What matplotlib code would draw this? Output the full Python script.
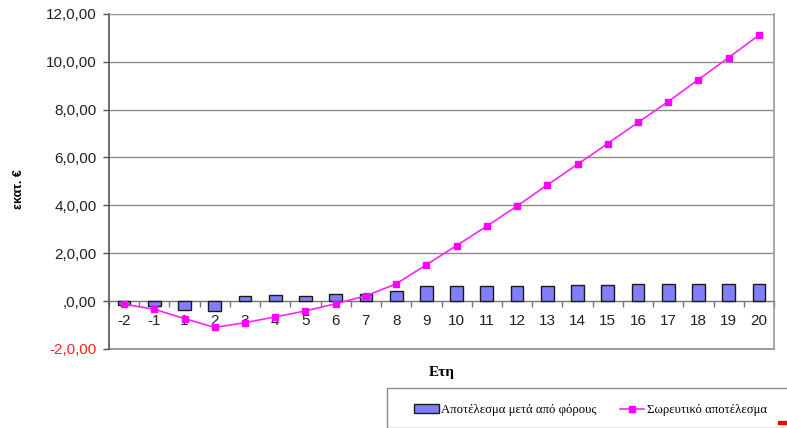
import numpy as np
import matplotlib
matplotlib.use("Agg")
from matplotlib import pyplot as plt
from matplotlib.patches import Rectangle

# years of the investment horizon (no year 0)
years = ["-2", "-1", "1", "2", "3", "4", "5", "6", "7", "8", "9", "10",
         "11", "12", "13", "14", "15", "16", "17", "18", "19", "20"]
# result after taxes, million euro
after_tax = [-0.17, -0.20, -0.38, -0.40, 0.20, 0.25, 0.23, 0.30, 0.30, 0.42,
             0.64, 0.63, 0.63, 0.65, 0.65, 0.68, 0.68, 0.70, 0.70, 0.70,
             0.72, 0.72]
# cumulative result, million euro
cumulative = [-0.13, -0.34, -0.73, -1.10, -0.90, -0.66, -0.41, -0.11, 0.22,
              0.72, 1.52, 2.32, 3.13, 3.97, 4.85, 5.71, 6.58, 7.46, 8.33,
              9.25, 10.17, 11.10]
y_ticks = [-2, 0, 2, 4, 6, 8, 10, 12]
y_labels = ["-2,0,00", ",0,00", "2,0,00", "4,0,00", "6,0,00", "8,0,00",
            "10,0,00", "12,0,00"]

W, H = 787, 428
fig = plt.figure(figsize=(W / 100, H / 100), dpi=100)
ax = fig.add_axes([109 / W, 1 - 349 / H, 665 / W, 335.3 / H])

x = np.arange(len(years))
bars = ax.bar(x, after_tax, width=0.42, color="#7f7ffb", edgecolor="#1a1a1a",
              linewidth=1.0, zorder=3, label="Αποτέλεσμα μετά από φόρους")
line, = ax.plot(x, cumulative, color="#ff22ff", lw=1.2, marker="s", ms=4.5,
                mec="#ff00ff", mfc="#ff00ff", zorder=4,
                label="Σωρευτικό αποτέλεσμα")

ax.set_xlim(-0.5, len(years) - 0.5)
ax.set_ylim(-2, 12)
ax.set_yticks(y_ticks)
ax.set_yticklabels(y_labels, fontsize=11, family="Liberation Sans",
                   color="#222222")
ax.get_yticklabels()[0].set_color("#ff2020")
ax.yaxis.grid(True, color="#8c8c8c", lw=1.0, zorder=0)
ax.axhline(-2, color="#8c8c8c", lw=1.2, clip_on=False, zorder=1)
ax.tick_params(axis="y", length=4, width=1, color="#555555", pad=5)

# category axis crosses at zero, tick marks between categories
ax.spines["bottom"].set_position(("data", 0))
ax.spines["bottom"].set_color("#777777")
ax.set_xticks(x)
ax.set_xticklabels(years, fontsize=11, family="Liberation Sans",
                   color="#222222")
ax.set_xticks(np.arange(-0.5, len(years)), minor=True)
ax.tick_params(axis="x", which="major", length=0, pad=9)
ax.tick_params(axis="x", which="minor", length=4, width=1, color="#777777")

ax.spines["left"].set_color("#555555")
ax.spines["left"].set_linewidth(1.2)
ax.spines["right"].set_color("#9a9a9a")
ax.spines["right"].set_linewidth(1.2)
ax.spines["top"].set_color("#9a9a9a")

ax.set_xlabel("Ετη", fontsize=11, fontweight="bold", family="Liberation Serif")
ax.xaxis.set_label_coords(0.5, -0.05)
ax.set_ylabel("εκατ. €", fontsize=9, fontweight="bold",
              family="Liberation Sans")
ax.yaxis.set_label_coords(-0.127, 0.477)

# legend frame runs off the right edge
fig.patches.append(Rectangle((387 / W, 0), 1, (428 - 388) / H,
                             transform=fig.transFigure, fill=False,
                             edgecolor="#8c8c8c", lw=1.0))
fig.legend(handles=[bars, line], loc="center left", ncol=2,
           bbox_to_anchor=(408 / W, 1 - 410 / H), frameon=False,
           prop={"family": "Liberation Serif", "size": 9.2},
           handlelength=1.9, handletextpad=0.2, columnspacing=1.8,
           borderpad=0)

fig.patches.append(Rectangle((778 / W, 1 - 424 / H), 9 / W, 3 / H,
                             transform=fig.transFigure, color="#ff0000"))

fig.savefig("out.png", dpi=100)
